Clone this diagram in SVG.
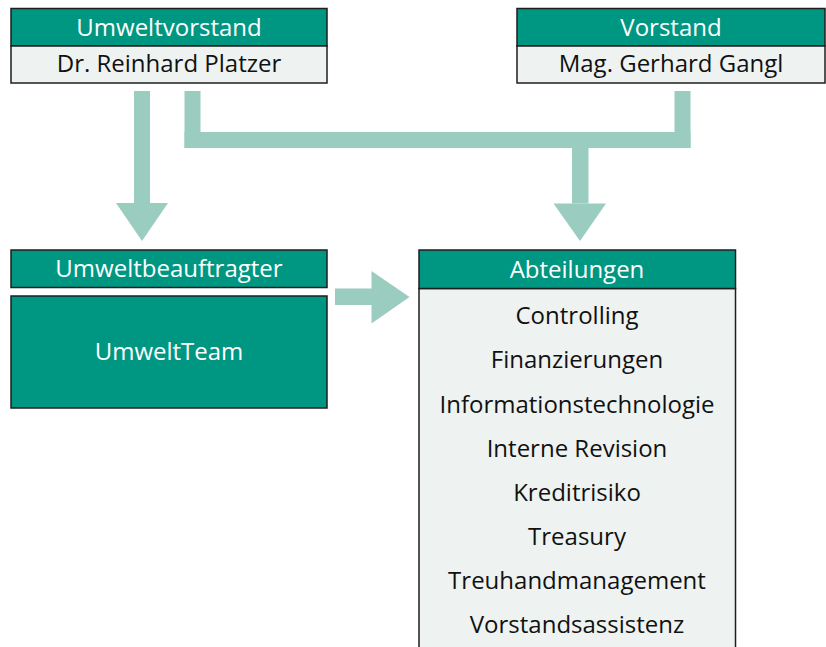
<svg xmlns="http://www.w3.org/2000/svg" width="826" height="647" viewBox="0 0 826 647">
<style>
.hd{fill:#009782;stroke:#1e1e1e;stroke-width:1.5}
.bd{fill:#eef3f1;stroke:#1e1e1e;stroke-width:1.5}
.t{font-family:"Open Sans","Noto Sans","DejaVu Sans",sans-serif;font-size:24px;text-anchor:middle}
.w{fill:#ffffff}
.k{fill:#111111}
.c{fill:#9acdc0}
</style>
<rect width="826" height="647" fill="#ffffff"/>
<g id="connectors">
<rect class="c" x="134" y="91" width="16" height="112"/>
<polygon class="c" points="116,203 168,203 142,241"/>
<rect class="c" x="184.5" y="91" width="16" height="57"/>
<rect class="c" x="184.5" y="132" width="506" height="16"/>
<rect class="c" x="674.5" y="91" width="16" height="57"/>
<rect class="c" x="572" y="147" width="16.5" height="56.5"/>
<polygon class="c" points="553.5,203.5 606,203.5 580,241"/>
<rect class="c" x="335" y="288.5" width="37" height="16.5"/>
<polygon class="c" points="371.5,271 371.5,323.5 409.5,297"/>
</g>
<g id="umweltvorstand">
<rect class="hd" x="11" y="8.5" width="316" height="37.5"/>
<rect class="bd" x="11" y="46" width="316" height="37"/>
<text class="t w" x="169" y="36">Umweltvorstand</text>
<text class="t k" x="169" y="72">Dr. Reinhard Platzer</text>
</g>
<g id="vorstand">
<rect class="hd" x="517" y="8.5" width="308" height="37.5"/>
<rect class="bd" x="517" y="46" width="308" height="37"/>
<text class="t w" x="671" y="36">Vorstand</text>
<text class="t k" x="671" y="72">Mag. Gerhard Gangl</text>
</g>
<g id="umweltbeauftragter">
<rect class="hd" x="11" y="250" width="316" height="37.5"/>
<text class="t w" x="169" y="277">Umweltbeauftragter</text>
</g>
<g id="umweltteam">
<rect class="hd" x="11" y="296" width="316" height="112"/>
<text class="t w" x="169" y="360">UmweltTeam</text>
</g>
<g id="abteilungen">
<rect class="bd" x="419" y="288.5" width="316.5" height="370"/>
<rect class="hd" x="419" y="250" width="316.5" height="38.5"/>
<text class="t w" x="577" y="277.5">Abteilungen</text>
<text class="t k" x="577" y="324">Controlling</text>
<text class="t k" x="577" y="368.3">Finanzierungen</text>
<text class="t k" x="577" y="412.6">Informationstechnologie</text>
<text class="t k" x="577" y="456.8">Interne Revision</text>
<text class="t k" x="577" y="500.8">Kreditrisiko</text>
<text class="t k" x="577" y="544.9">Treasury</text>
<text class="t k" x="577" y="588.8">Treuhandmanagement</text>
<text class="t k" x="577" y="632.7">Vorstandsassistenz</text>
</g>
</svg>
